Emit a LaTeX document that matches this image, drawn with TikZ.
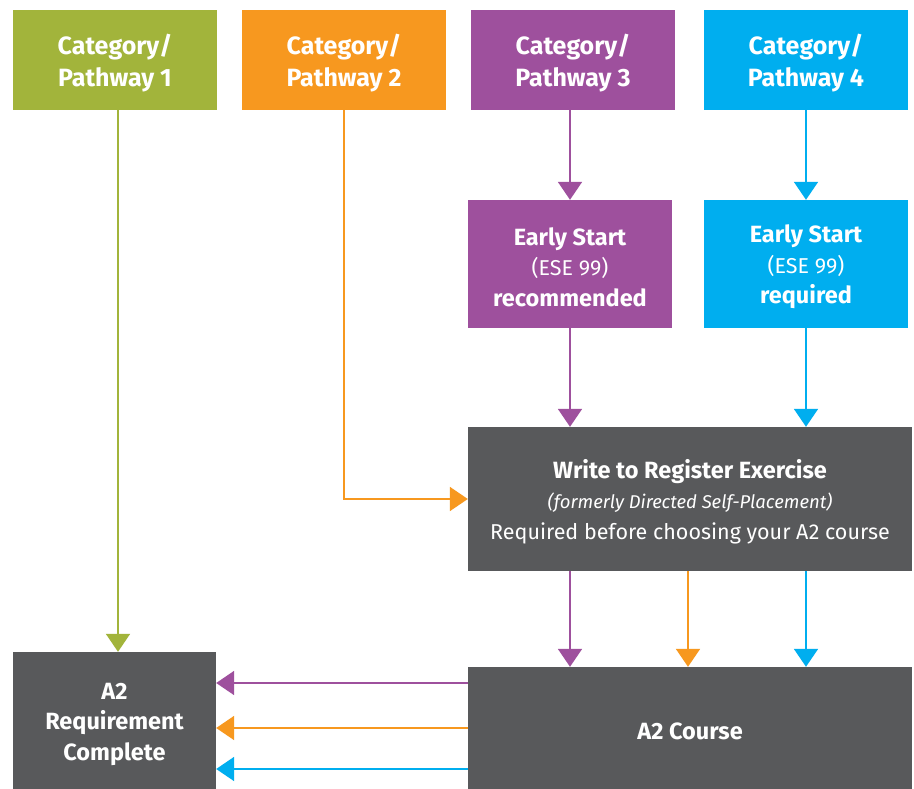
\documentclass[tikz,border=0pt]{standalone}
\usepackage{fontspec}
\setmainfont{Fira Sans}
\usepackage{tikz}
\usetikzlibrary{arrows.meta, calc, positioning}
\definecolor{pgreen}{HTML}{A2B43B}
\definecolor{porange}{HTML}{F7981F}
\definecolor{ppurple}{HTML}{9E509D}
\definecolor{pcyan}{HTML}{00AEEF}
\definecolor{pgrey}{HTML}{58595B}
\newcommand{\plain}{\fontsize{21.5}{30}\mdseries\selectfont}
\newcommand{\tpad}{\rule{0pt}{1.03em}}
\begin{document}
\begin{tikzpicture}[x=1pt,y=-1pt,
	box/.style={inner sep=0pt, text=white, align=center, font=\fontsize{23.5}{30.5}\selectfont\bfseries},
	catbox/.style={box, minimum width=204pt, minimum height=100pt, font=\fontsize{25}{32}\selectfont\bfseries},
	esbox/.style={box, minimum width=204pt, minimum height=128pt},
	flow/.style={line width=2pt, -{Triangle[width=24pt,length=18pt]}}]
	\fill[white] (0,0) rectangle (914,789);
	\node(p1) [catbox, fill=pgreen] at (115,60) {\tpad Category/\\Pathway 1};
	\node(p2) [catbox, fill=porange] at (344,60) {\tpad Category/\\Pathway 2};
	\node(p3) [catbox, fill=ppurple] at (573,60) {\tpad Category/\\Pathway 3};
	\node(p4) [catbox, fill=pcyan] at (806,60) {\tpad Category/\\Pathway 4};
	\node(es3) [esbox, fill=ppurple] at (570,264) {\tpad Early Start\\{\plain (ESE 99)}\\recommended};
	\node(es4) [esbox, fill=pcyan] at (806,264) {\tpad Early Start\\{\plain (ESE 99)}\\required};
	\node(wre) [box, fill=pgrey, minimum width=444pt, minimum height=144pt] at (690,499)
	{\tpad Write to Register Exercise\\{\fontsize{18.5}{30}\mdseries\itshape\selectfont (formerly Directed Self-Placement)}\\{\plain Required before choosing your A2 course}};
	\node(a2c) [box, fill=pgrey, minimum width=444pt, minimum height=122pt] at (690,728) {\tpad A2 Course};
	\node(a2r) [box, fill=pgrey, minimum width=203pt, minimum height=137pt] at (114.5,720.5) {\tpad A2\\Requirement\\Complete};
	
	\draw[flow, pgreen] ([xshift=3pt]p1.south) -- ([xshift=3pt]p1.south |- a2r.north);
	\draw[flow, porange] (p2.south) |- (wre.west);
	\draw[flow, ppurple] (es3.north |- p3.south) -- (es3.north);
	\draw[flow, pcyan] (p4.south) -- (es4.north);
	\draw[flow, ppurple] (es3.south) -- (es3.south |- wre.north);
	\draw[flow, pcyan] (es4.south) -- (es4.south |- wre.north);
	
	\draw[flow, ppurple] (es3.south |- wre.south) -- (es3.south |- a2c.north);
	\draw[flow, porange] ([xshift=-2pt]wre.south) -- ([xshift=-2pt]a2c.north);
	\draw[flow, pcyan] (es4.south |- wre.south) -- (es4.south |- a2c.north);
	
	\coordinate(c3) at ([yshift=45pt]a2c.west);
	\coordinate(c4) at ([yshift=-41pt]a2c.west);
	\draw[flow, ppurple] (c3) -- (c3 -| a2r.east);
	\draw[flow, porange] (a2c.west) -- (a2c.west -| a2r.east);
	\draw[flow, pcyan] (c4) -- (c4 -| a2r.east);
\end{tikzpicture}
\end{document}
